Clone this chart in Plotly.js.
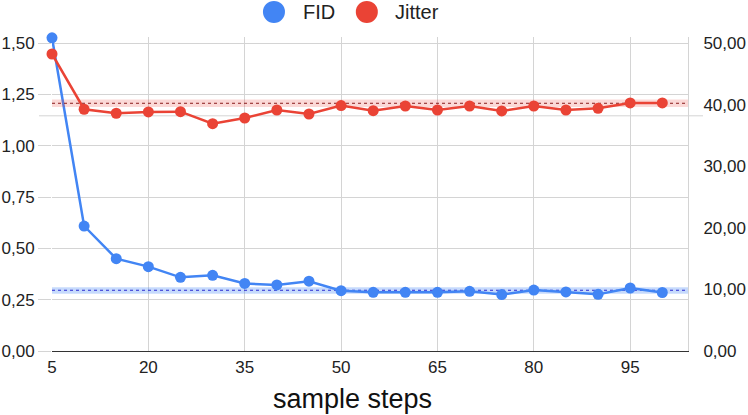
<!DOCTYPE html>
<html>
<head>
<meta charset="utf-8">
<script src="https://cdn.plot.ly/plotly-3.0.1.min.js"></script>
<style>
html,body{margin:0;padding:0;background:#fff;}
#chart{width:748px;height:415px;}
</style>
</head>
<body>
<div id="chart"></div>
<script>
// sample steps
const steps = [5,10,15,20,25,30,35,40,45,50,55,60,65,70,75,80,85,90,95,100];

// FID (left axis)
const fid = [1.526,0.609,0.450,0.411,0.359,0.369,0.329,0.322,0.340,0.294,
             0.286,0.286,0.286,0.291,0.275,0.297,0.288,0.276,0.307,0.285];

// Jitter (right axis)
const jitter = [48.26,39.28,38.63,38.84,38.89,36.94,37.86,39.16,38.51,39.87,
                39.05,39.81,39.16,39.81,39.00,39.81,39.16,39.43,40.30,40.30];

// trend bands
const bandX = [5,104];
const fidMid = [0.296,0.296];
const fidLow = [0.279,0.279];
const fidHigh = [0.311,0.311];
const jitMid = [40.25,40.25];
const jitLow = [39.65,39.65];
const jitHigh = [40.85,40.85];

const leftTicks = [0,0.25,0.5,0.75,1,1.25,1.5];
const rightTicks = [0,10,20,30,40,50];
const xTicks = [5,20,35,50,65,80,95];

const traces = [
  // FID band
  {x:bandX,y:fidLow,mode:"lines",line:{width:0},hoverinfo:"skip"},
  {x:bandX,y:fidHigh,mode:"lines",line:{width:0},fill:"tonexty",
   fillcolor:"rgba(66,133,244,0.3)",hoverinfo:"skip"},
  {x:bandX,y:fidMid,mode:"lines",line:{color:"#2a2ad0",width:1,dash:"dot"}},
  // Jitter band
  {x:bandX,y:jitLow,yaxis:"y2",mode:"lines",line:{width:0},hoverinfo:"skip"},
  {x:bandX,y:jitHigh,yaxis:"y2",mode:"lines",line:{width:0},fill:"tonexty",
   fillcolor:"rgba(234,67,53,0.2)",hoverinfo:"skip"},
  {x:bandX,y:jitMid,yaxis:"y2",mode:"lines",line:{color:"#8a1c1c",width:1,dash:"dot"}},
  // series
  {x:steps,y:fid,name:"FID",mode:"lines+markers",cliponaxis:false,
   line:{color:"#4285F4",width:2.5},marker:{color:"#4285F4",size:11}},
  {x:steps,y:jitter,name:"Jitter",yaxis:"y2",mode:"lines+markers",cliponaxis:false,
   line:{color:"#EA4335",width:2.5},marker:{color:"#EA4335",size:11}}
];

const layout = {
  width:748,height:415,
  margin:{l:52,r:60,t:37,b:64},
  paper_bgcolor:"#fff",plot_bgcolor:"#fff",
  separators:",.",
  font:{family:"Arial, Liberation Sans, sans-serif",color:"#222",size:17},
  showlegend:false,
  xaxis:{
    range:[5,104],tickvals:xTicks,ticktext:xTicks.map(String),
    showgrid:true,gridcolor:"#d4d4d4",gridwidth:1,zeroline:false,
    showline:true,linecolor:"#333",linewidth:1.2,ticks:"",
    tickfont:{size:17}
  },
  yaxis:{
    range:[0,1.53],tickvals:leftTicks,tickformat:".2f",
    showgrid:true,gridcolor:"#d4d4d4",gridwidth:1,zeroline:false,
    ticks:"outside",ticklen:13,tickcolor:"#d4d4d4",
    tickfont:{size:17},showline:false
  },
  yaxis2:{
    range:[0,51.02],tickvals:rightTicks,tickformat:".2f",
    overlaying:"y",side:"right",showgrid:false,zeroline:false,
    showline:true,linecolor:"#d4d4d4",linewidth:1,
    ticks:"outside",ticklen:11,tickcolor:"rgba(0,0,0,0)",
    tickfont:{size:17}
  },
  shapes:[
    {type:"line",xref:"paper",yref:"y",x0:-0.0204,x1:1.0236,y0:1.146,y1:1.146,
     line:{color:"#d4d4d4",width:1},layer:"below"},
    {type:"circle",xref:"paper",yref:"paper",xsizemode:"pixel",ysizemode:"pixel",
     xanchor:0.349,yanchor:1.08,x0:-11,x1:11,y0:-11,y1:11,
     fillcolor:"#4285F4",line:{width:0}},
    {type:"circle",xref:"paper",yref:"paper",xsizemode:"pixel",ysizemode:"pixel",
     xanchor:0.495,yanchor:1.08,x0:-11,x1:11,y0:-11,y1:11,
     fillcolor:"#EA4335",line:{width:0}}
  ],
  annotations:[
    {xref:"paper",yref:"paper",x:0.3915,y:1.08,xanchor:"left",yanchor:"middle",
     text:"FID",showarrow:false,font:{size:20,color:"#222"}},
    {xref:"paper",yref:"paper",x:0.536,y:1.08,xanchor:"left",yanchor:"middle",
     text:"Jitter",showarrow:false,font:{size:20,color:"#222"}},
    // x axis title, centred a bit left of the plot centre as in the original
    {xref:"paper",yref:"paper",x:0.472,y:-0.152,xanchor:"center",yanchor:"middle",
     text:"sample steps",showarrow:false,font:{size:27,color:"#111"}}
  ]
};

Plotly.newPlot("chart",traces,layout,{displayModeBar:false,staticPlot:true});
</script>
</body>
</html>
